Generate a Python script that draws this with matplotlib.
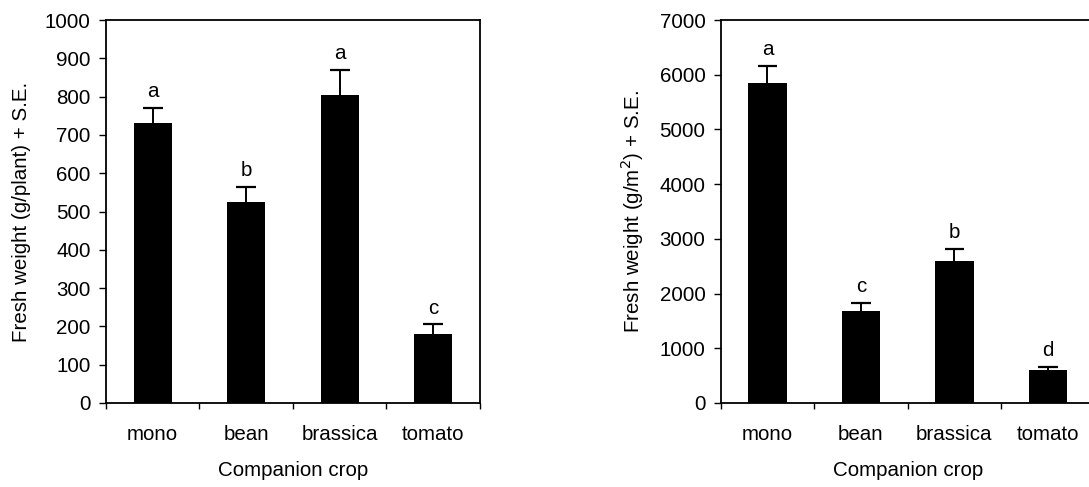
import matplotlib
matplotlib.use("Agg")
import matplotlib.pyplot as plt
import numpy as np

plt.rcParams["font.family"] = ["Liberation Sans", "DejaVu Sans"]

crops = ["mono", "bean", "brassica", "tomato"]

# fresh weight per plant (g/plant) and standard error
per_plant = [730, 525, 805, 180]
per_plant_se = [40, 40, 65, 25]
per_plant_letters = ["a", "b", "a", "c"]

# fresh weight per area (g/m2) and standard error
per_area = [5845, 1685, 2595, 600]
per_area_se = [320, 135, 215, 60]
per_area_letters = ["a", "c", "b", "d"]

FS = 14.8


def bar_panel(ax, values, errors, letters, ymax, ystep, ylabel):
    x = np.arange(len(crops))
    tops = np.array(values) + np.array(errors)
    ax.bar(x, values, width=0.41, color="black", zorder=2)
    # upper-only S.E. whiskers with a cap
    ax.vlines(x, values, tops, color="black", linewidth=1.4, zorder=3)
    ax.hlines(tops, x - 0.105, x + 0.105, color="black", linewidth=1.6, zorder=3)
    for xi, t, lab in zip(x, tops, letters):
        ax.annotate(lab, (xi, t), xytext=(0, 5), textcoords="offset points",
                    ha="center", va="bottom", fontsize=FS)

    ax.set_xlim(-0.5, len(crops) - 0.5)
    ax.set_ylim(0, ymax)
    ax.set_yticks(np.arange(0, ymax + 1, ystep))

    # boundary ticks between categories, labels centred on the bars
    ax.set_xticks(np.arange(-0.5, len(crops)), labels=[""] * (len(crops) + 1))
    ax.set_xticks(x, labels=crops, minor=True)
    ax.tick_params(axis="x", which="major", direction="out", length=4, width=1)
    ax.tick_params(axis="x", which="minor", length=0, pad=16, labelsize=FS)
    ax.tick_params(axis="y", direction="out", length=5, width=1, pad=6, labelsize=FS)

    for sp in ax.spines.values():
        sp.set_linewidth(1.3)

    ax.set_xlabel("Companion crop", fontsize=FS, labelpad=12)
    ax.set_ylabel(ylabel, fontsize=FS, labelpad=10)


fig = plt.figure(figsize=(10.89, 4.87), dpi=100)
ax1 = fig.add_axes([0.0973, 0.1725, 0.3434, 0.7864])
ax2 = fig.add_axes([0.6618, 0.1725, 0.3434, 0.7864])

bar_panel(ax1, per_plant, per_plant_se, per_plant_letters, 1000, 100,
          "Fresh weight (g/plant) + S.E.")
bar_panel(ax2, per_area, per_area_se, per_area_letters, 7000, 1000,
          "Fresh weight (g/m$^2$) + S.E.")

fig.savefig("out.png", dpi=100, facecolor="white")
